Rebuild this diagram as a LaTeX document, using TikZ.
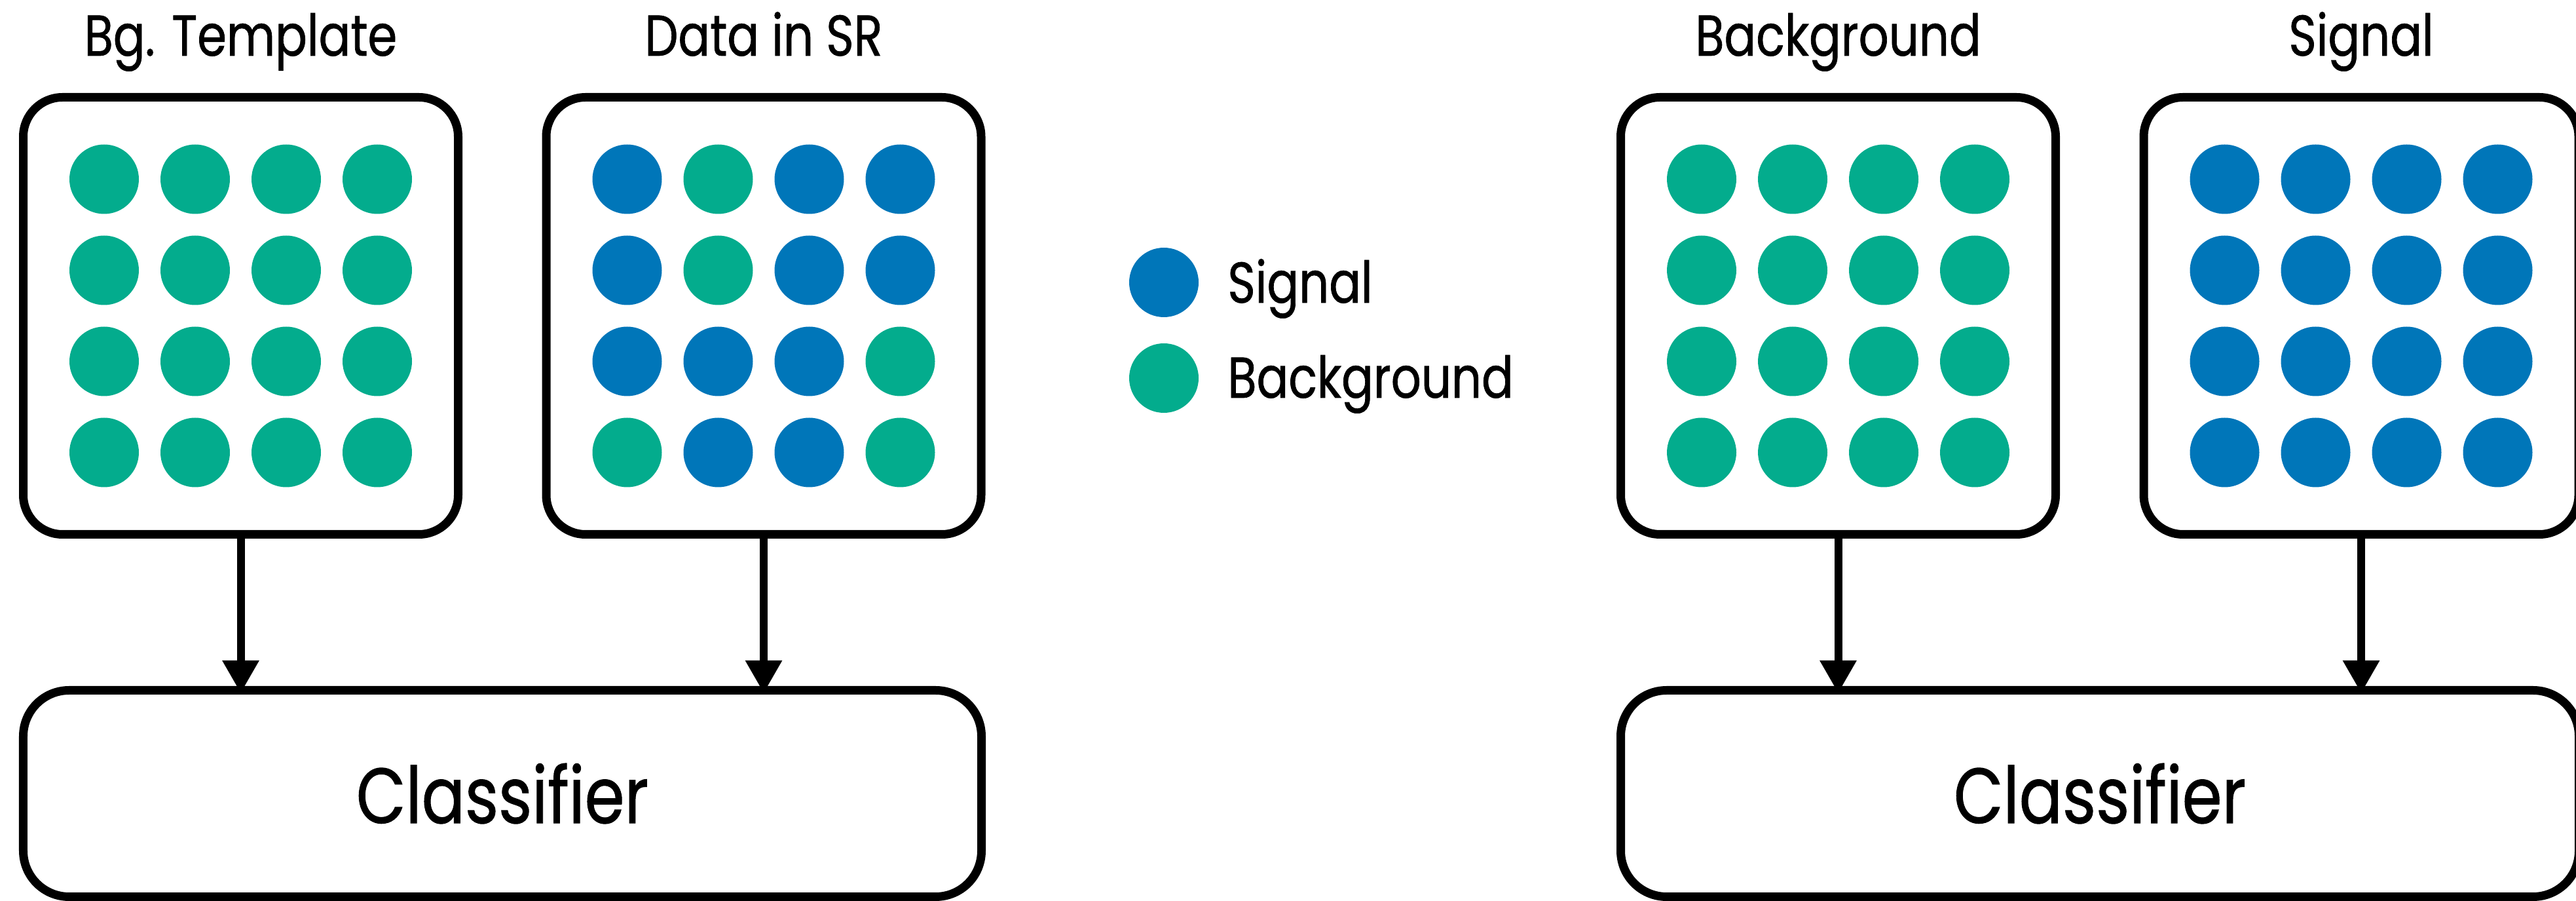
\documentclass[tikz,border=0pt]{standalone}
\usepackage{fontspec}
\setmainfont{Poppins}[FakeStretch=0.82, FakeBold=0.8]
\usepackage{tikz}
\usetikzlibrary{positioning,arrows.meta}
\definecolor{sigblue}{HTML}{0076B9}
\definecolor{bkggreen}{HTML}{03AC8D}

\begin{document}
\begin{tikzpicture}[
        panel/.style={rectangle, draw, line width=0.13cm, rounded corners=0.6cm, minimum width=6.64cm, minimum height=6.67cm},
        clf/.style={rectangle, draw, line width=0.13cm, rounded corners=0.7cm, minimum width=14.63cm, minimum height=3.15cm, font=\fontsize{34}{40}\selectfont},
        title/.style={anchor=base, font=\fontsize{25}{30}\selectfont},
        dot/.style={circle, fill=#1, minimum size=1.06cm, inner sep=0pt},
        arrow/.style={-{Triangle[length=0.5cm,width=0.53cm]}, line width=0.12cm, shorten >=-0.11cm}
    ]
        \useasboundingbox (0,0) rectangle (39.33,-13.75);
        % Template vs. data
        \node[panel] (tmpl) at (3.675,-4.82) {};
        \node[panel, right=1.215cm of tmpl] (data) {};
        \node[clf] (clfa) at (7.67,-12.11) {Classifier};
        \node[title] (tmpltitle) at (tmpl.north |- 0,-0.85) {Bg. Template};
        \node[title] (datatitle) at (data.north |- 0,-0.85) {Data in SR};
        \foreach \col in {0,...,3}
            \foreach \row in {0,...,3}
                \node[dot=bkggreen, xshift={(\col-1.5)*1.39cm}, yshift={(1.5-\row)*1.39cm}] (tmpl-\col\row) at (tmpl) {};
        \foreach \c [count=\i from 0] in {sigblue,bkggreen,sigblue,sigblue, sigblue,bkggreen,sigblue,sigblue, sigblue,sigblue,sigblue,bkggreen, bkggreen,sigblue,sigblue,bkggreen}
            \node[dot=\c, xshift={(mod(\i,4)-1.5)*1.39cm}, yshift={(1.5-int(\i/4))*1.39cm}] (data-\i) at (data) {};
        \draw[arrow] (tmpl.south) -- (tmpl.south |- clfa.north);
        \draw[arrow] (data.south) -- (data.south |- clfa.north);
        % Legend
        \node[dot=sigblue] (legsig) at (17.77,-4.31) {};
        \node[dot=bkggreen] (legbkg) at (17.77,-5.77) {};
        \node[title, anchor=base west] (legsigtxt) at (18.62,-4.62) {Signal};
        \node[title, anchor=base west] (legbkgtxt) at (18.62,-6.07) {Background};
        % Background vs. signal
        \node[panel] (bkg) at (28.065,-4.82) {};
        \node[panel, right=1.215cm of bkg] (sig) {};
        \node[clf] (clfb) at (32.06,-12.11) {Classifier};
        \node[title] (bkgtitle) at (bkg.north |- 0,-0.85) {Background};
        \node[title] (sigtitle) at (sig.north |- 0,-0.85) {Signal};
        \foreach \col in {0,...,3}
            \foreach \row in {0,...,3} {
                \node[dot=bkggreen, xshift={(\col-1.5)*1.39cm}, yshift={(1.5-\row)*1.39cm}] (bkg-\col\row) at (bkg) {};
                \node[dot=sigblue, xshift={(\col-1.5)*1.39cm}, yshift={(1.5-\row)*1.39cm}] (sig-\col\row) at (sig) {};
            }
        \draw[arrow] (bkg.south) -- (bkg.south |- clfb.north);
        \draw[arrow] (sig.south) -- (sig.south |- clfb.north);
    \end{tikzpicture}
\end{document}
